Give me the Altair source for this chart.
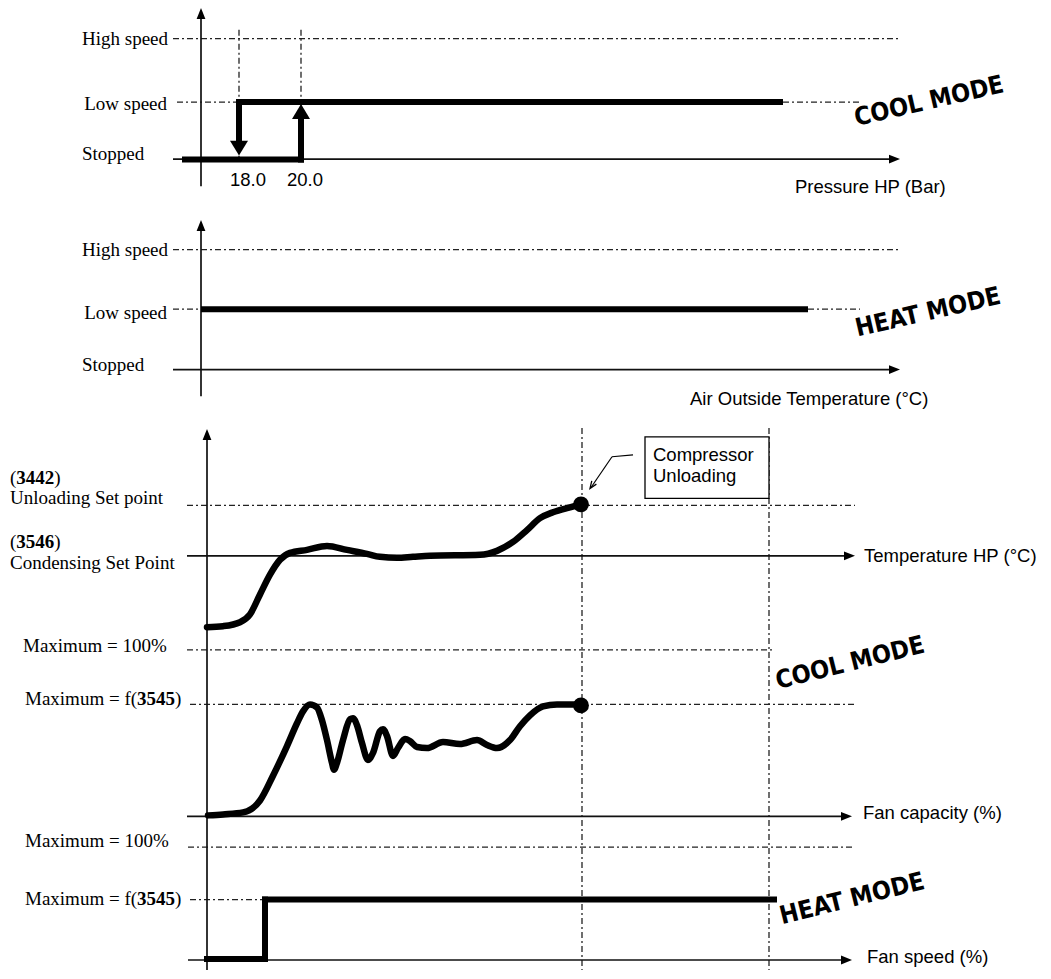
import altair as alt
import pandas as pd

# Whole diagram is drawn in page-pixel coordinates (page margin = 8 px)
W, H = 1035, 963
XDOM = [8, 8 + W]
YDOM = [8, 8 + H]

# ---------------- guide lines (x1, y1, x2, y2) ----------------
DASHDOT_LINES = [
    # panel 1 : cool mode, pressure HP
    (173, 39, 900, 39),
    (177, 103, 239, 103),
    (783, 103, 860, 103),
    (239, 30, 239, 160),
    (301, 30, 301, 160),
    # panel 2 : heat mode, air outside temperature
    (173, 252, 900, 252),
    (173, 312, 201, 312),
    (808, 312, 860, 312),
    # panel 3 / 4 : temperature HP, fan capacity, fan speed
    (187, 510, 855, 510),
    (187, 656, 772, 656),
    (190, 711, 855, 711),
    (188, 855, 853, 855),
    (190, 908, 265, 908),
    (582, 432, 582, 979),
    (769, 432, 769, 979),
]

AXIS_LINES = [
    (201, 188, 201, 16),
    (173, 160.5, 892, 160.5),
    (201, 400, 201, 228),
    (173, 373, 892, 373),
    (207, 979, 207, 440),
    (187, 561, 847, 561),
    (187, 824, 844, 824),
    (188, 969, 844, 969),
]

# arrow tips of the axes (x, y, direction)
AXIS_ARROWS = [
    (201, 8, "up"), (900, 160.5, "right"),
    (201, 222, "up"), (900, 373, "right"),
    (207, 433, "up"), (855, 561, "right"),
    (852, 824, "right"), (852, 969, "right"),
]

# thick state lines (fan stage)
THICK_LINES = [
    (185, 161, 301, 161),
    (301, 161, 301, 121),
    (239, 103, 780, 103),
    (239, 103, 239, 143),
    (204, 312, 805, 312),
    (207, 968, 265, 968),
    (265, 968, 265, 908),
    (265, 908, 774, 908),
]
# hysteresis arrow heads (x, y, direction)
BIG_ARROWS = [(239, 157, "down"), (301, 105, "up")]

# ---------------- curves ----------------
TEMP_X = [207, 223, 240, 250, 260, 270, 280, 290, 307, 327, 347, 367, 380, 397,
          413, 430, 480, 497, 513, 527, 540, 553, 570, 581]
TEMP_Y = [633, 632, 628, 620, 600, 580, 565, 558, 555, 551, 555, 559, 562, 563,
          562, 561, 560, 556, 547, 535, 523, 517, 512, 509]

FAN_X = [208, 223, 243, 260, 273, 287, 297, 303, 310, 317, 322, 327, 332, 334, 337,
         343, 350, 353, 357, 362, 368, 373, 380, 383, 387, 393, 398, 405, 410, 417,
         427, 443, 460, 477, 487, 497, 510, 520, 530, 543, 557, 581]
FAN_Y = [823, 822, 820, 808, 783, 753, 730, 718, 711, 714, 727, 747, 770, 777, 770,
         747, 726, 725, 732, 750, 767, 760, 738, 736, 743, 763, 755, 746, 748, 754,
         755, 749, 751, 747, 752, 755, 747, 733, 722, 713, 711, 711]

DOTS = [(581, 509), (581, 712)]

# Compressor unloading call-out
BOX = (645, 441, 769, 503)
LEADER = [(633, 459, 612, 461), (612, 461, 591, 492)]
LEADER_TIP = (590, 493, 214.5)

# ---------------- texts ----------------
SERIF_RIGHT = [("High speed", 168, 39), ("Low speed", 167, 105),
               ("High speed", 168, 252), ("Low speed", 167, 316)]
SERIF_LEFT = [("Stopped", 82, 155), ("Stopped", 82, 368),
              ("(", 10, 482), (")", 54.3, 482), ("Unloading Set point", 10, 503),
              ("(", 10, 547), (")", 54.3, 547), ("Condensing Set Point", 10, 568),
              ("Maximum = 100%", 23, 652),
              ("Maximum = f(", 25, 706), (")", 175, 706),
              ("Maximum = 100%", 25, 849),
              ("Maximum = f(", 25, 907), (")", 175, 907)]
SERIF_BOLD = [("3442", 16.3, 482), ("3546", 16.3, 547),
              ("3545", 137, 706), ("3545", 137, 907)]
SANS_LEFT = [("Pressure HP (Bar)", 795, 189),
             ("Air Outside Temperature (°C)", 690, 403),
             ("Temperature HP (°C)", 864, 561),
             ("Fan capacity (%)", 863, 821),
             ("Fan speed (%)", 867, 966),
             ("Compressor", 653, 459), ("Unloading", 653, 480)]
SANS_CENTER = [("18.0", 248, 182), ("20.0", 305, 182)]
MODE_LABELS = [("COOL MODE", 929, 102, 347), ("HEAT MODE", 928, 315, 347),
               ("COOL MODE", 850, 669, 346), ("HEAT MODE", 852, 907, 346)]

# ---------------- build ----------------
xs = alt.Scale(domain=XDOM, nice=False, zero=False)
ys = alt.Scale(domain=YDOM, nice=False, zero=False, reverse=True)
X = alt.X("x:Q", scale=xs, axis=None)
Y = alt.Y("y:Q", scale=ys, axis=None)
X2 = alt.X2("x2:Q")
Y2 = alt.Y2("y2:Q")


def seg_df(rows):
    return pd.DataFrame(rows, columns=["x", "y", "x2", "y2"])


def text_df(rows):
    return pd.DataFrame(rows, columns=["t", "x", "y"])


ARROW_PATHS = {
    "up": "M0,0L0.8,2L-0.8,2Z",
    "down": "M0,0L0.8,-2L-0.8,-2Z",
    "right": "M0,0L-2,0.8L-2,-0.8Z",
}
BIG_PATHS = {
    "up": "M0,0L1,1.66L-1,1.66Z",
    "down": "M0,0L1,-1.66L-1,-1.66Z",
}

arrow_rows = [dict(x=x, y=y, shape=ARROW_PATHS[d], size=121) for x, y, d in AXIS_ARROWS]
arrow_rows += [dict(x=x, y=y, shape=BIG_PATHS[d], size=324) for x, y, d in BIG_ARROWS]
arrows_df = pd.DataFrame(arrow_rows)

dashdot = alt.Chart(seg_df(DASHDOT_LINES)).mark_rule(
    color="#222", strokeWidth=1.3, strokeDash=[6, 3, 2, 3]
).encode(x=X, y=Y, x2=X2, y2=Y2)

axes = alt.Chart(seg_df(AXIS_LINES)).mark_rule(
    color="#111", strokeWidth=1.7
).encode(x=X, y=Y, x2=X2, y2=Y2)

thick = alt.Chart(seg_df(THICK_LINES)).mark_rule(
    color="black", strokeWidth=6, strokeCap="square"
).encode(x=X, y=Y, x2=X2, y2=Y2)

heads = alt.Chart(arrows_df).mark_point(
    filled=True, color="black", opacity=1, strokeWidth=0
).encode(x=X, y=Y, shape=alt.Shape("shape:N", scale=None),
         size=alt.Size("size:Q", scale=None))

curve_df = pd.concat([
    pd.DataFrame({"x": TEMP_X, "y": TEMP_Y, "c": "temp", "i": range(len(TEMP_X))}),
    pd.DataFrame({"x": FAN_X, "y": FAN_Y, "c": "fan", "i": range(len(FAN_X))}),
])
curves = alt.Chart(curve_df).mark_line(
    color="black", strokeWidth=6.5, strokeCap="round", strokeJoin="round",
    interpolate="monotone"
).encode(x=X, y=Y, detail="c:N", order="i:Q")

dots = alt.Chart(pd.DataFrame(DOTS, columns=["x", "y"])).mark_point(
    filled=True, shape="circle", size=250, color="black", opacity=1
).encode(x=X, y=Y)

box = alt.Chart(seg_df([BOX])).mark_rect(
    fill="white", stroke="black", strokeWidth=1.3
).encode(x=X, y=Y, x2=X2, y2=Y2)

leader = alt.Chart(seg_df(LEADER)).mark_rule(
    color="black", strokeWidth=1.2
).encode(x=X, y=Y, x2=X2, y2=Y2)

leader_tip = alt.Chart(pd.DataFrame([LEADER_TIP], columns=["x", "y", "a"])).mark_point(
    shape="M-0.7,1.8L0,0L0.7,1.8", filled=False, size=64, color="black",
    strokeWidth=1.3, opacity=1
).encode(x=X, y=Y, angle=alt.Angle("a:Q", scale=None))

SERIF = "Liberation Serif, Times New Roman, serif"
SANS = "Liberation Sans, Arial, sans-serif"

t_serif_r = alt.Chart(text_df(SERIF_RIGHT)).mark_text(
    font=SERIF, fontSize=19, align="right", baseline="middle", color="black"
).encode(x=X, y=Y, text="t:N")
t_serif_l = alt.Chart(text_df(SERIF_LEFT)).mark_text(
    font=SERIF, fontSize=19, align="left", baseline="middle", color="black"
).encode(x=X, y=Y, text="t:N")
t_serif_b = alt.Chart(text_df(SERIF_BOLD)).mark_text(
    font=SERIF, fontSize=19, fontWeight="bold", align="left", baseline="middle",
    color="black"
).encode(x=X, y=Y, text="t:N")
t_sans_l = alt.Chart(text_df(SANS_LEFT)).mark_text(
    font=SANS, fontSize=18.5, align="left", baseline="middle", color="black"
).encode(x=X, y=Y, text="t:N")
t_sans_c = alt.Chart(text_df(SANS_CENTER)).mark_text(
    font=SANS, fontSize=18.5, align="center", baseline="middle", color="black"
).encode(x=X, y=Y, text="t:N")
t_mode = alt.Chart(pd.DataFrame(MODE_LABELS, columns=["t", "x", "y", "a"])).mark_text(
    font="Liberation Sans Narrow, DejaVu Sans Condensed, sans-serif",
    fontSize=25, fontWeight="bold", align="center", baseline="middle",
    color="black"
).encode(x=X, y=Y, text="t:N", angle=alt.Angle("a:Q", scale=None))

chart = alt.layer(
    dashdot, axes, thick, curves, dots, heads, box, leader, leader_tip,
    t_serif_r, t_serif_l, t_serif_b, t_sans_l, t_sans_c, t_mode
).properties(
    width=W, height=H,
    autosize=alt.AutoSizeParams(type="fit", contains="padding"),
    padding=0, background="white"
).configure_view(stroke=None)

chart.save("out.html", embed_options={"renderer": "svg", "actions": False})
